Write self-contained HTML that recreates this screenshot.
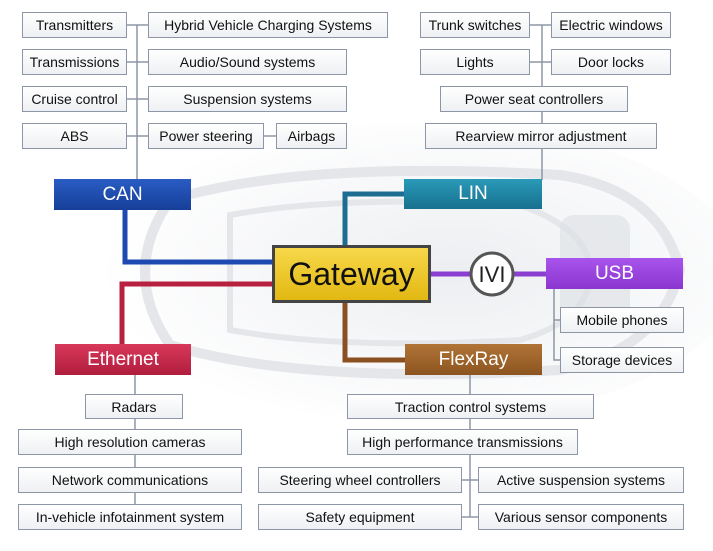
<!DOCTYPE html>
<html><head><meta charset="utf-8"><style>
body{margin:0;width:713px;height:551px;background:#fff;position:relative;overflow:hidden;font-family:"Liberation Sans",sans-serif;}
.b{position:absolute;box-sizing:border-box;border:1.5px solid #8d96a6;background:linear-gradient(#fff,#eef0f3);font-size:14px;color:#111;display:flex;align-items:center;justify-content:center;white-space:nowrap;}
.n{position:absolute;box-sizing:border-box;color:#fff;font-size:19px;display:flex;align-items:center;justify-content:center;}
svg{position:absolute;left:0;top:0;}
</style></head><body>
<svg width="713" height="551">
<defs><radialGradient id="bg" cx="0.55" cy="0.5" r="0.55"><stop offset="0" stop-color="#eceef1"/><stop offset="1" stop-color="#ffffff"/></radialGradient></defs>
<ellipse cx="420" cy="272" rx="320" ry="150" fill="url(#bg)"/>
<g fill="none" stroke="#e4e6ea" stroke-width="10">
<path d="M170 200 Q300 160 560 175 Q660 190 680 270 Q660 350 560 370 Q300 385 170 345 Q120 272 170 200Z"/>
<path d="M230 215 Q340 195 520 205 Q590 230 590 272 Q590 320 520 340 Q340 350 230 330Z" stroke-width="6"/>
<rect x="560" y="215" width="70" height="110" rx="14" fill="#dcdfe3" stroke="none" opacity="0.6"/>
</g>
<g stroke="#8d96a6" stroke-width="1.5" fill="none">
<path d="M137 25V180 M127 25H148 M127 62H148 M127 99H148 M127 136H148 M264 136H276"/>
<path d="M542 25V180 M530 25H551 M530 62H551 M542 112V123"/>
<path d="M135 375V517"/>
<path d="M470 375V394 M470 419V429 M470 455V517 M462 480H478 M462 517H478"/>
<path d="M554 289V360H560 M554 320H560"/>
</g>
<g fill="none" stroke-width="5">
<path d="M125 210V262H275" stroke="#1d49b0"/>
<path d="M275 284H122V344" stroke="#b8203f"/>
<path d="M345 246V194H404" stroke="#1d6d92"/>
<path d="M345 302V360H405" stroke="#8a5022"/>
<path d="M431 274H546" stroke="#8a3fd0"/>
</g>
<circle cx="492" cy="274" r="21" fill="#fff" stroke="#555" stroke-width="3"/>
<text x="492" y="282" text-anchor="middle" font-size="22" font-family="Liberation Sans" fill="#222">IVI</text>
</svg>
<div class="b" style="left:22px;top:12px;width:105px;height:26px">Transmitters</div>
<div class="b" style="left:148px;top:12px;width:240px;height:26px">Hybrid Vehicle Charging Systems</div>
<div class="b" style="left:22px;top:49px;width:105px;height:26px">Transmissions</div>
<div class="b" style="left:148px;top:49px;width:199px;height:26px">Audio/Sound systems</div>
<div class="b" style="left:22px;top:86px;width:105px;height:26px">Cruise control</div>
<div class="b" style="left:148px;top:86px;width:199px;height:26px">Suspension systems</div>
<div class="b" style="left:22px;top:123px;width:105px;height:26px">ABS</div>
<div class="b" style="left:148px;top:123px;width:116px;height:26px">Power steering</div>
<div class="b" style="left:276px;top:123px;width:71px;height:26px">Airbags</div>
<div class="b" style="left:420px;top:12px;width:110px;height:26px">Trunk switches</div>
<div class="b" style="left:551px;top:12px;width:120px;height:26px">Electric windows</div>
<div class="b" style="left:420px;top:49px;width:110px;height:26px">Lights</div>
<div class="b" style="left:551px;top:49px;width:120px;height:26px">Door locks</div>
<div class="b" style="left:440px;top:86px;width:188px;height:26px">Power seat controllers</div>
<div class="b" style="left:425px;top:123px;width:232px;height:26px">Rearview mirror adjustment</div>
<div class="n" style="left:54px;top:179px;width:137px;height:31px;background:linear-gradient(#2a5cc4,#163f98)">CAN</div>
<div class="n" style="left:404px;top:179px;width:138px;height:30px;background:linear-gradient(#2a9ab8,#17708f)">LIN</div>
<div class="n" style="left:272px;top:245px;width:159px;height:58px;background:linear-gradient(#f7d84a,#e2b812);border:3px solid #444;color:#111;font-size:32px">Gateway</div>
<div class="n" style="left:546px;top:258px;width:137px;height:31px;background:linear-gradient(#a855ec,#8a36cf)">USB</div>
<div class="b" style="left:560px;top:307px;width:124px;height:26px">Mobile phones</div>
<div class="b" style="left:560px;top:347px;width:124px;height:26px">Storage devices</div>
<div class="n" style="left:55px;top:344px;width:136px;height:31px;background:linear-gradient(#d8385a,#b01d3d)">Ethernet</div>
<div class="n" style="left:405px;top:344px;width:137px;height:31px;background:linear-gradient(#b07436,#8c5420)">FlexRay</div>
<div class="b" style="left:85px;top:394px;width:98px;height:25px">Radars</div>
<div class="b" style="left:18px;top:429px;width:224px;height:26px">High resolution cameras</div>
<div class="b" style="left:18px;top:467px;width:224px;height:26px">Network communications</div>
<div class="b" style="left:18px;top:504px;width:224px;height:26px">In-vehicle infotainment system</div>
<div class="b" style="left:347px;top:394px;width:247px;height:25px">Traction control systems</div>
<div class="b" style="left:347px;top:429px;width:231px;height:26px">High performance transmissions</div>
<div class="b" style="left:258px;top:467px;width:204px;height:26px">Steering wheel controllers</div>
<div class="b" style="left:478px;top:467px;width:206px;height:26px">Active suspension systems</div>
<div class="b" style="left:258px;top:504px;width:204px;height:26px">Safety equipment</div>
<div class="b" style="left:478px;top:504px;width:206px;height:26px">Various sensor components</div>
</body></html>
